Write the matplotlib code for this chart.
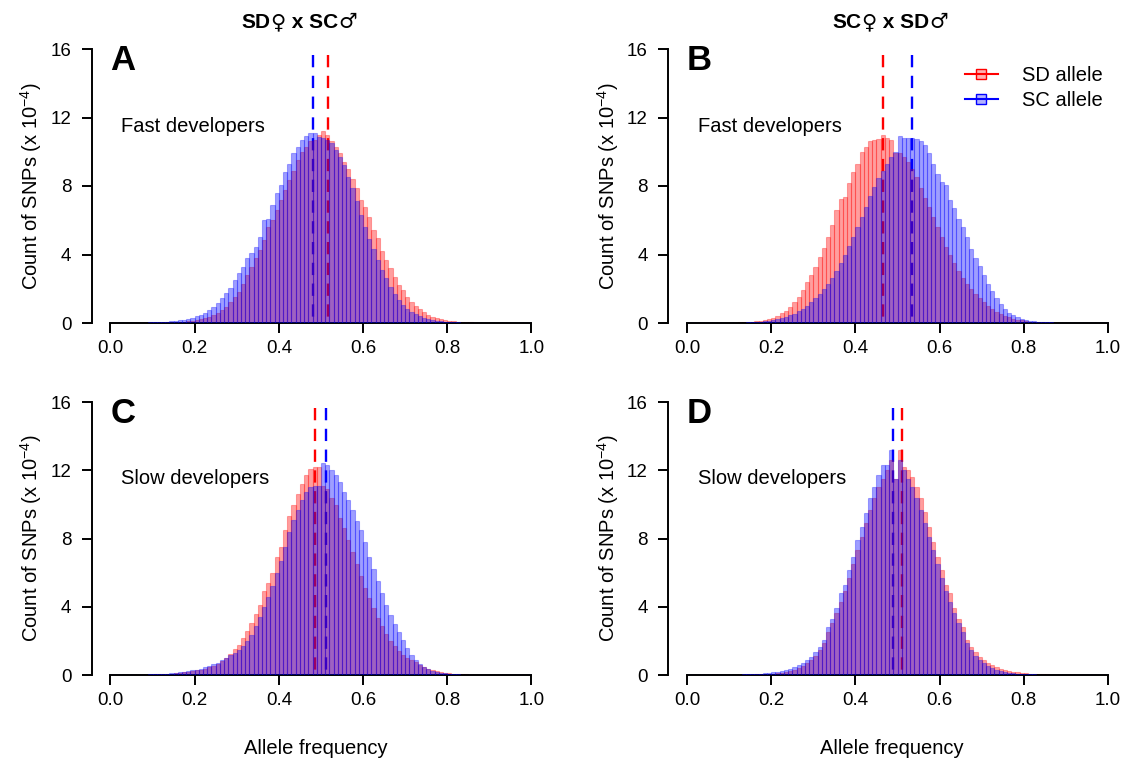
import numpy as np
import matplotlib
matplotlib.use("Agg")
import matplotlib.pyplot as plt
from matplotlib.lines import Line2D
from matplotlib.offsetbox import TextArea, HPacker, AnchoredOffsetbox

plt.rcParams["font.family"] = ["Liberation Sans", "DejaVu Sans"]
plt.rcParams["mathtext.fontset"] = "custom"
plt.rcParams["mathtext.rm"] = "Liberation Sans"
plt.rcParams["mathtext.it"] = "Liberation Sans:italic"

# =========================
# DATA (counts x 10^-4 per 0.01 bin, bins 0.00-0.01 ... 0.99-1.00)
# =========================
bin_edges = np.round(np.arange(0, 1.0, 0.01), 2)

sd_fast_a = [
    0.003, 0.004, 0.005, 0.006, 0.007, 0.008, 0.009, 0.01, 0.012, 0.015,
    0.017, 0.02, 0.025, 0.03, 0.04, 0.05, 0.06, 0.08, 0.1, 0.13,
    0.17, 0.22, 0.29, 0.37, 0.47, 0.6, 0.76, 0.95, 1.25, 1.54,
    1.83, 2.3, 2.8, 3.29, 3.77, 4.26, 4.84, 5.6, 6.0, 6.6,
    7.18, 7.76, 8.35, 8.9, 9.5, 10.0, 10.3, 10.6, 10.7, 10.95,
    11.2, 11.0, 10.65, 10.25, 9.9, 9.4, 9.0, 8.4, 7.9, 7.2,
    6.8, 6.2, 5.45, 4.95, 4.2, 3.7, 3.2, 2.7, 2.2, 1.93,
    1.54, 1.25, 0.99, 0.8, 0.62, 0.47, 0.37, 0.27, 0.21, 0.16,
    0.12, 0.09, 0.07, 0.05, 0.04, 0.03, 0.025, 0.02, 0.015, 0.012,
    0.01, 0.008, 0.007, 0.006, 0.005, 0.004, 0.003, 0.003, 0.002, 0.002,
]
sc_fast_a = [
    0.004, 0.005, 0.006, 0.008, 0.01, 0.012, 0.015, 0.02, 0.025, 0.03,
    0.04, 0.05, 0.06, 0.08, 0.1, 0.12, 0.15, 0.19, 0.25, 0.31,
    0.39, 0.49, 0.6, 0.76, 0.95, 1.15, 1.44, 1.73, 2.05, 2.5,
    2.9, 3.29, 3.77, 4.07, 4.45, 5.0, 6.0, 6.1, 6.9, 7.57,
    8.05, 8.8, 9.3, 9.9, 10.3, 10.7, 10.9, 11.07, 11.1, 10.85,
    10.8, 10.7, 10.5, 10.1, 9.7, 9.2, 8.5, 7.9, 7.1, 6.3,
    5.6, 4.9, 4.3, 3.7, 3.1, 2.6, 2.1, 1.7, 1.35, 1.05,
    0.82, 0.63, 0.5, 0.39, 0.3, 0.23, 0.18, 0.14, 0.1, 0.08,
    0.06, 0.045, 0.035, 0.025, 0.02, 0.015, 0.012, 0.01, 0.008, 0.006,
    0.005, 0.004, 0.003, 0.003, 0.002, 0.002, 0.001, 0.001, 0.001, 0.001,
]
sd_fast_b = [
    0.002, 0.003, 0.003, 0.004, 0.005, 0.006, 0.008, 0.01, 0.012, 0.015,
    0.02, 0.025, 0.035, 0.045, 0.06, 0.08, 0.1, 0.14, 0.18, 0.24,
    0.31, 0.41, 0.56, 0.72, 0.95, 1.2, 1.5, 1.95, 2.4, 2.8,
    3.25, 3.85, 4.4, 5.0, 5.75, 6.6, 7.25, 7.35, 8.2, 8.8,
    9.3, 10.0, 10.3, 10.65, 10.7, 10.75, 10.95, 10.8, 10.7, 9.9,
    9.9, 9.7, 9.4, 9.0, 8.5, 7.9, 7.3, 6.75, 6.2, 5.6,
    5.05, 4.45, 3.95, 3.5, 3.05, 2.65, 2.3, 2.0, 1.7, 1.45,
    1.2, 1.0, 0.82, 0.67, 0.54, 0.43, 0.34, 0.26, 0.2, 0.15,
    0.11, 0.08, 0.06, 0.045, 0.035, 0.025, 0.02, 0.015, 0.012, 0.01,
    0.008, 0.006, 0.005, 0.004, 0.003, 0.003, 0.002, 0.002, 0.001, 0.001,
]
sc_fast_b = [
    0.001, 0.001, 0.002, 0.002, 0.003, 0.004, 0.005, 0.007, 0.009, 0.011,
    0.013, 0.016, 0.02, 0.025, 0.03, 0.04, 0.05, 0.07, 0.09, 0.12,
    0.16, 0.21, 0.27, 0.35, 0.44, 0.55, 0.68, 0.84, 1.02, 1.22,
    1.45, 1.7, 1.98, 2.3, 2.65, 3.05, 3.5, 4.0, 4.5, 5.05,
    5.6, 6.2, 6.8, 7.4, 7.95, 8.45, 8.9, 9.3, 9.7, 10.0,
    10.9, 10.8, 10.8, 10.8, 10.75, 10.6, 10.4, 9.9, 9.3, 8.7,
    8.25, 8.05, 7.2, 6.7, 6.1, 5.6, 5.0, 4.3, 3.8, 3.3,
    2.8, 2.3, 1.85, 1.45, 1.1, 0.82, 0.6, 0.45, 0.33, 0.25,
    0.19, 0.14, 0.1, 0.075, 0.055, 0.04, 0.03, 0.022, 0.016, 0.012,
    0.009, 0.007, 0.005, 0.004, 0.003, 0.003, 0.002, 0.002, 0.001, 0.001,
]
sd_slow_c = [
    0.003, 0.004, 0.005, 0.006, 0.008, 0.01, 0.012, 0.015, 0.02, 0.025,
    0.03, 0.04, 0.05, 0.06, 0.08, 0.1, 0.12, 0.15, 0.18, 0.22,
    0.27, 0.32, 0.38, 0.45, 0.54, 0.65, 0.8, 1.0, 1.25, 1.5,
    1.76, 2.15, 2.55, 3.05, 3.6, 4.1, 4.95, 5.4, 5.95, 6.9,
    7.5, 8.5, 9.3, 9.95, 10.6, 11.2, 11.7, 12.1, 12.2, 12.2,
    11.1, 10.9, 10.4, 9.95, 9.2, 8.6, 7.9, 7.2, 6.5, 5.8,
    5.1, 4.5, 3.9, 3.35, 2.85, 2.4, 2.0, 1.7, 1.42, 1.2,
    1.0, 0.9, 0.75, 0.6, 0.48, 0.38, 0.29, 0.22, 0.17, 0.13,
    0.1, 0.075, 0.055, 0.04, 0.03, 0.022, 0.016, 0.012, 0.009, 0.007,
    0.005, 0.004, 0.003, 0.003, 0.002, 0.002, 0.001, 0.001, 0.001, 0.001,
]
sc_slow_c = [
    0.004, 0.005, 0.006, 0.008, 0.01, 0.012, 0.015, 0.02, 0.025, 0.03,
    0.04, 0.05, 0.06, 0.08, 0.1, 0.12, 0.15, 0.18, 0.22, 0.27,
    0.32, 0.38, 0.45, 0.53, 0.62, 0.73, 0.86, 1.0, 1.15, 1.3,
    1.45, 1.7, 1.98, 2.35, 2.9, 3.4, 4.0, 4.6, 5.2, 5.95,
    6.7, 7.5, 8.4, 9.1, 9.7, 10.25, 10.7, 11.0, 11.1, 11.1,
    12.4, 12.3, 12.0, 11.7, 11.3, 10.7, 10.25, 9.7, 9.0, 8.5,
    7.8, 6.9, 6.2, 5.5, 4.8, 4.1, 3.5, 3.0, 2.5, 2.05,
    1.6, 1.15, 0.85, 0.62, 0.45, 0.33, 0.24, 0.17, 0.12, 0.09,
    0.065, 0.045, 0.03, 0.02, 0.015, 0.011, 0.008, 0.006, 0.004, 0.003,
    0.002, 0.002, 0.001, 0.001, 0.001, 0.001, 0.0, 0.0, 0.0, 0.0,
]
sd_slow_d = [
    0.001, 0.001, 0.002, 0.002, 0.003, 0.003, 0.004, 0.005, 0.006, 0.008,
    0.008, 0.01, 0.012, 0.015, 0.02, 0.025, 0.035, 0.045, 0.06, 0.085,
    0.085, 0.11, 0.14, 0.18, 0.24, 0.31, 0.4, 0.52, 0.68, 0.88,
    1.12, 1.45, 1.85, 2.5, 3.05, 3.65, 4.3, 4.95, 5.7, 6.5,
    7.3, 8.1, 8.9, 9.7, 10.4, 11.0, 11.5, 12.0, 12.6, 11.5,
    13.2, 12.2, 12.0, 11.6, 11.0, 10.35, 9.57, 8.7, 7.8, 6.9,
    6.15, 5.3, 4.8, 3.9, 3.3, 2.8, 2.05, 1.66, 1.37, 1.07,
    0.88, 0.72, 0.59, 0.45, 0.37, 0.3, 0.25, 0.2, 0.16, 0.13,
    0.1, 0.08, 0.065, 0.05, 0.04, 0.03, 0.025, 0.02, 0.016, 0.014,
    0.012, 0.01, 0.008, 0.007, 0.006, 0.005, 0.004, 0.003, 0.003, 0.002,
]
sc_slow_d = [
    0.003, 0.003, 0.004, 0.005, 0.006, 0.007, 0.008, 0.01, 0.012, 0.014,
    0.016, 0.02, 0.025, 0.03, 0.04, 0.05, 0.065, 0.08, 0.1, 0.13,
    0.16, 0.2, 0.25, 0.3, 0.37, 0.45, 0.59, 0.72, 0.88, 1.07,
    1.37, 1.66, 2.05, 2.8, 3.3, 3.9, 4.8, 5.3, 6.15, 6.9,
    7.9, 8.7, 9.5, 10.35, 11.0, 11.7, 12.3, 12.3, 13.2, 11.5,
    12.6, 12.0, 11.5, 11.0, 10.4, 9.7, 8.9, 8.1, 7.3, 6.5,
    5.7, 4.95, 4.3, 3.65, 3.05, 2.5, 1.85, 1.45, 1.12, 0.88,
    0.68, 0.52, 0.4, 0.31, 0.24, 0.18, 0.14, 0.11, 0.085, 0.065,
    0.05, 0.04, 0.03, 0.025, 0.02, 0.015, 0.012, 0.01, 0.008, 0.006,
    0.005, 0.004, 0.003, 0.003, 0.002, 0.002, 0.002, 0.001, 0.001, 0.001,
]

# mean allele frequency (dashed lines)
mean_sd = {"A": 0.516, "B": 0.466, "C": 0.486, "D": 0.510}
mean_sc = {"A": 0.481, "B": 0.534, "C": 0.511, "D": 0.490}

panel_letters = ["A", "B", "C", "D"]
panel_notes = ["Fast developers", "Fast developers", "Slow developers", "Slow developers"]
col_titles = [["SD", "\u2640", " x SC", "\u2642"], ["SC", "\u2640", " x SD", "\u2642"]]
sd_series = [sd_fast_a, sd_fast_b, sd_slow_c, sd_slow_d]
sc_series = [sc_fast_a, sc_fast_b, sc_slow_c, sc_slow_d]

RED = (1, 0, 0)
BLUE = (0, 0, 1)

# =========================
# FIGURE
# =========================
W, H = 1123, 763
fig = plt.figure(figsize=(W / 100, H / 100), dpi=100)

XMIN, XMAX, YTOP = -0.045, 1.02, 16.6
# (left px, zero-line px from top, px per y unit)
geom = [(91.5, 323, 17.125), (668.1, 323, 17.125),
        (91.5, 675, 17.06), (668.1, 675, 17.06)]
xpx = 421.0

for k, (left, y0, ppu) in enumerate(geom):
    ax = fig.add_axes([left / W, (H - y0) / H,
                       (XMAX - XMIN) * xpx / W, YTOP * ppu / H])
    letter = panel_letters[k]

    for m, c in ((mean_sd[letter], RED), (mean_sc[letter], BLUE)):
        ax.plot([m, m], [15.65, 0], color=c, lw=1.7,
                linestyle=(0, (5.2, 3.6)), zorder=1)

    ax.bar(bin_edges, sd_series[k], width=0.01, align="edge",
           color=RED + (0.38,), edgecolor=RED + (0.3,), linewidth=0.8, zorder=2)
    ax.bar(bin_edges, sc_series[k], width=0.01, align="edge",
           color=BLUE + (0.38,), edgecolor=BLUE + (0.3,), linewidth=0.8, zorder=3)

    ax.set_xlim(XMIN, XMAX)
    ax.set_ylim(0, YTOP)
    for s in ("top", "right"):
        ax.spines[s].set_visible(False)
    ax.spines["left"].set_bounds(0, 16)
    ax.spines["bottom"].set_bounds(0, 1)
    ax.spines["left"].set_linewidth(1.4)
    ax.spines["bottom"].set_linewidth(1.4)
    ax.set_xticks(np.arange(0, 1.01, 0.2))
    ax.set_xticklabels([f"{v:.1f}" for v in np.arange(0, 1.01, 0.2)])
    ax.set_yticks([0, 4, 8, 12, 16])
    ax.tick_params(axis="both", length=7.5, width=1.4, labelsize=13.5)
    ax.tick_params(axis="x", pad=5)
    ax.tick_params(axis="y", pad=7)

    ax.text(0.0, 14.8, letter, fontsize=25, fontweight="bold",
            ha="left", va="baseline")
    ax.text(0.026, 11.17, panel_notes[k], fontsize=14.5,
            ha="left", va="baseline")
    ax.text(-0.135, 8, "Count of SNPs (x 10$^{-4}$)", fontsize=14.5,
            rotation=90, ha="center", va="center",
            transform=ax.get_yaxis_transform())
    if k >= 2:
        ax.text(0.5, -0.258, "Allele frequency", fontsize=14.5,
                ha="center", va="center", transform=ax.transAxes)

    if k == 1:
        handles = [
            Line2D([], [], color=RED, lw=1.5, marker="s", markersize=7,
                   markerfacecolor=RED + (0.3,), markeredgecolor=RED),
            Line2D([], [], color=BLUE, lw=1.5, marker="s", markersize=7,
                   markerfacecolor=BLUE + (0.3,), markeredgecolor=BLUE),
        ]
        ax.legend(handles, ["SD allele", "SC allele"], loc="center left",
                  bbox_to_anchor=(0.662, 0.827), frameon=False,
                  fontsize=14.5, handlelength=1.64, handletextpad=1.2,
                  labelspacing=0.3, borderpad=0, borderaxespad=0)

# column titles: letters in Liberation Sans, sex symbols in DejaVu Sans
for parts, xc in zip(col_titles, (299, 890)):
    areas = []
    for i, p in enumerate(parts):
        fam = "DejaVu Sans" if i % 2 else "Liberation Sans"
        areas.append(TextArea(p, textprops=dict(fontsize=15, fontweight="bold",
                                                family=fam)))
    box = HPacker(children=areas, align="baseline", pad=0, sep=0)
    fig.add_artist(AnchoredOffsetbox(loc="center", child=box, pad=0, borderpad=0,
                                     frameon=False,
                                     bbox_to_anchor=(xc / W, 1 - 22 / H),
                                     bbox_transform=fig.transFigure))

fig.savefig("out.png", dpi=100)
